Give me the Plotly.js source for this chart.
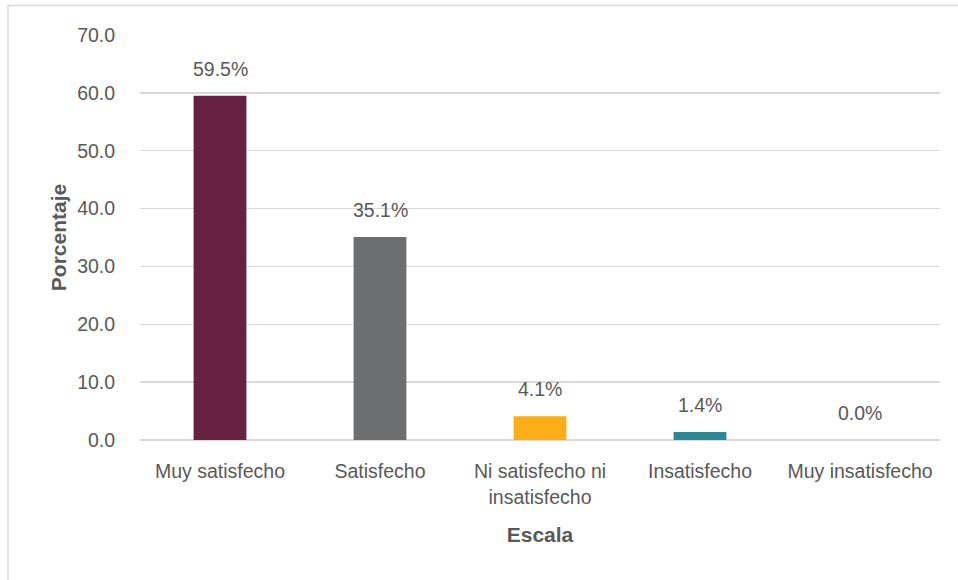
<!DOCTYPE html>
<html>
<head>
<meta charset="utf-8">
<script src="https://cdn.plot.ly/plotly-3.0.1.min.js"></script>
<style>html,body{margin:0;padding:0;background:#fff;}#chart{width:958px;height:580px;}</style>
</head>
<body>
<div id="chart"></div>
<script>
const categories = ["Muy satisfecho", "Satisfecho", "Ni satisfecho ni<br>insatisfecho", "Insatisfecho", "Muy insatisfecho"];
const values = [59.5, 35.1, 4.1, 1.4, 0.0];
const barColors = ["#662042", "#6D6E70", "#FBAE17", "#2E8797", "#2E8797"];
const yTickVals = [0, 10, 20, 30, 40, 50, 60, 70];
const yTickText = ["0.0", "10.0", "20.0", "30.0", "40.0", "50.0", "60.0", "70.0"];

const FONT = "'Liberation Sans Narrow', 'Arial Narrow', 'Liberation Sans', sans-serif";
const TXT = "#595959";

const trace = {
  type: "bar",
  x: categories,
  y: values,
  marker: {color: barColors},
  width: 0.33,
  hoverinfo: "none"
};

const annotations = categories.map((c, i) => ({
  x: c, y: values[i], xref: "x", yref: "y",
  text: values[i].toFixed(1) + "%",
  showarrow: false, yanchor: "bottom", yshift: 14,
  font: {family: FONT, size: 19.5, color: TXT}
}));

const layout = {
  width: 958, height: 580,
  margin: {l: 140, r: 18, t: 35, b: 140},
  paper_bgcolor: "#fff", plot_bgcolor: "#fff",
  showlegend: false,
  font: {family: FONT, color: TXT, size: 18},
  xaxis: {
    type: "category",
    tickfont: {family: FONT, size: 19.5, color: TXT},
    ticks: "outside", ticklen: 14, tickcolor: "rgba(0,0,0,0)",
    showline: false, showgrid: false, zeroline: false,
    title: {text: "<b>Escala</b>", font: {family: FONT, size: 21, color: TXT}, standoff: 20}
  },
  yaxis: {
    range: [0, 70],
    tickvals: yTickVals, ticktext: yTickText,
    tickfont: {family: FONT, size: 19.5, color: TXT},
    ticks: "outside", ticklen: 20, tickcolor: "rgba(0,0,0,0)",
    showgrid: true, gridcolor: "#D9D9D9", gridwidth: 1.3,
    zeroline: true, zerolinecolor: "#D9D9D9", zerolinewidth: 1.3,
    showline: false,
    title: {text: "<b>Porcentaje</b>", font: {family: FONT, size: 21, color: TXT}, standoff: 4}
  },
  annotations: annotations,
  shapes: [{
    type: "rect", xref: "paper", yref: "paper",
    x0: -0.165, x1: 1.05, y0: -0.5, y1: 1.073,
    line: {color: "#D9D9D9", width: 1.5}, fillcolor: "rgba(0,0,0,0)", layer: "below"
  }]
};

Plotly.newPlot("chart", [trace], layout, {displayModeBar: false, staticPlot: true});
</script>
</body>
</html>
